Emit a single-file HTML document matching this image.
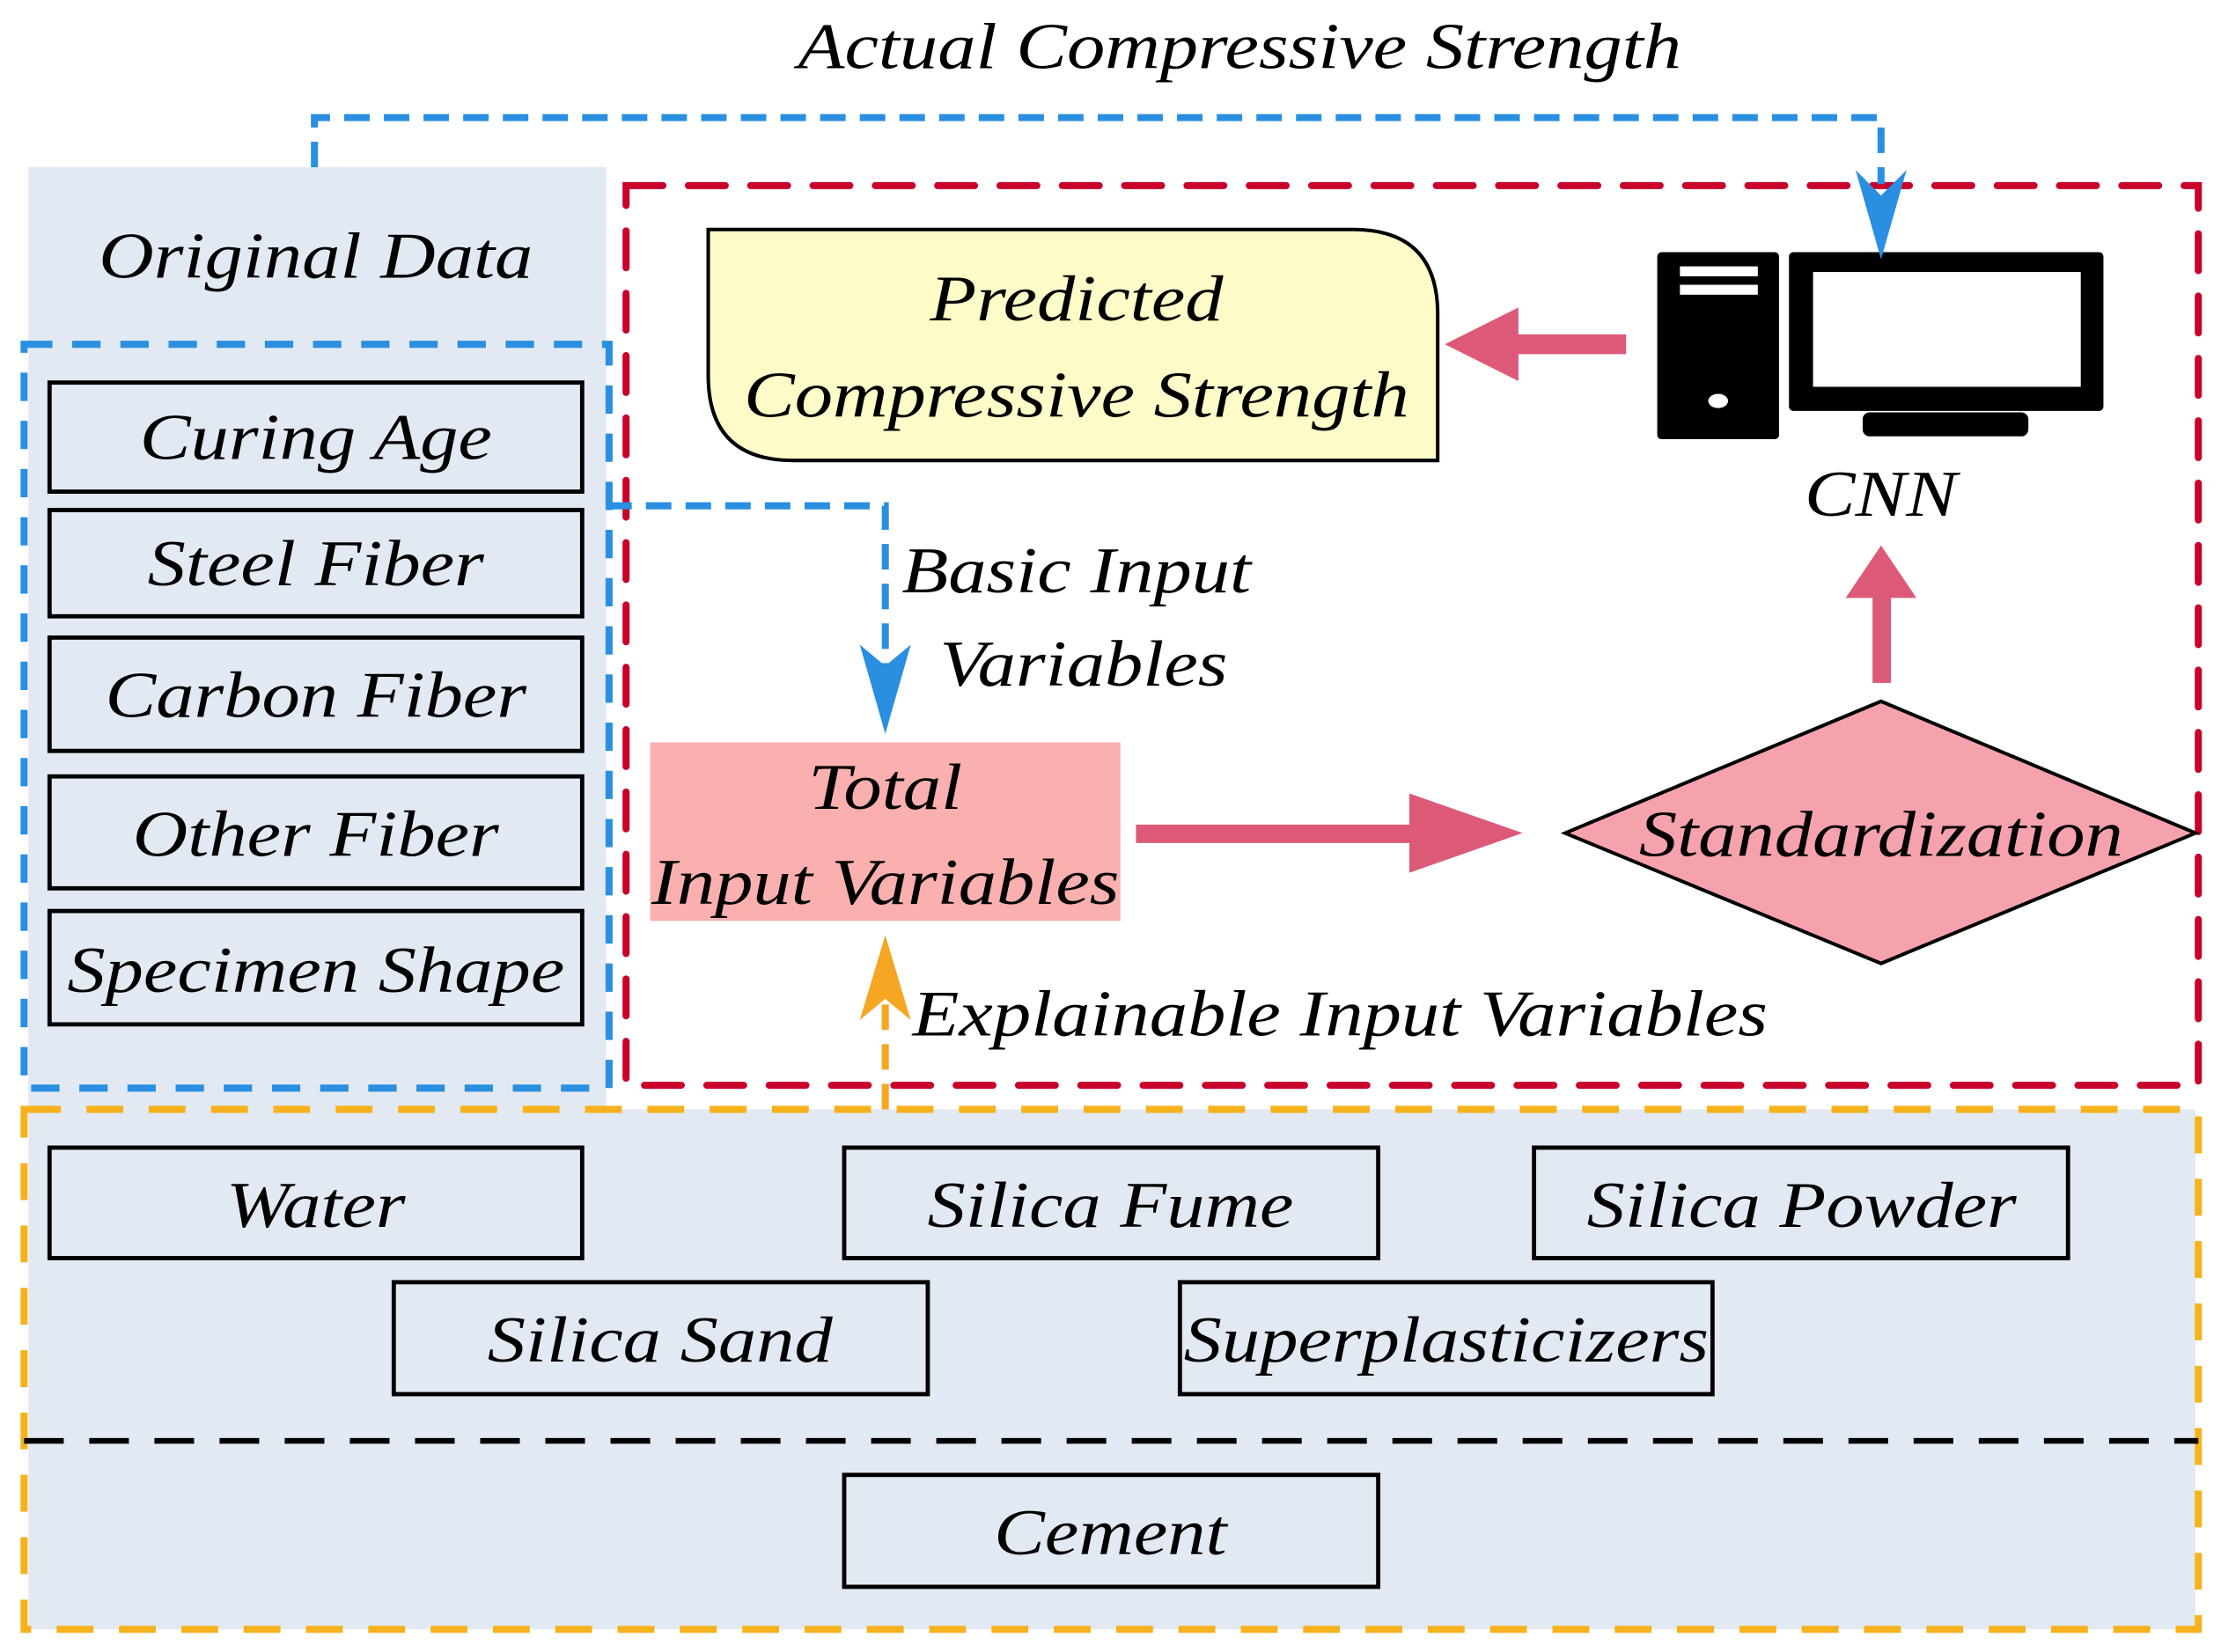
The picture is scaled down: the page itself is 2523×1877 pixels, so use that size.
<!DOCTYPE html>
<html><head><meta charset="utf-8"><style>
html,body{margin:0;padding:0;background:#fff}
svg{display:block}
text{font-family:"Liberation Serif",serif;font-style:italic;fill:#000;transform:scaleX(1.17);transform-box:fill-box;transform-origin:center}
</style></head><body>
<svg width="2523" height="1877" viewBox="0 0 1568 1166" preserveAspectRatio="none" xmlns="http://www.w3.org/2000/svg">
<rect width="1568" height="1166" fill="#fff"/>
<rect x="20" y="118" width="408" height="665" fill="#e3e9f2"/>
<rect x="20" y="783" width="1530" height="367" fill="#e3e9f2"/>
<rect x="442" y="131" width="1110" height="635" fill="none" stroke="#c8002a" stroke-width="5" stroke-dasharray="26 18" stroke-linecap="round"/>
<rect x="17" y="243" width="413" height="525" fill="none" stroke="#2a8fe0" stroke-width="5" stroke-dasharray="20 14"/>
<rect x="17" y="783" width="1535" height="367" fill="none" stroke="#f5b21c" stroke-width="5" stroke-dasharray="26 18"/>
<line x1="17" y1="1017" x2="1552" y2="1017" stroke="#000" stroke-width="4" stroke-dasharray="28 18"/>
<g fill="none" stroke="#000" stroke-width="3">
<rect x="35" y="270" width="376" height="77"/>
<rect x="35" y="360" width="376" height="75"/>
<rect x="35" y="450" width="376" height="80"/>
<rect x="35" y="548" width="376" height="79"/>
<rect x="35" y="643" width="376" height="80"/>
<rect x="35" y="810" width="376" height="78"/>
<rect x="596" y="810" width="377" height="78"/>
<rect x="1083" y="810" width="377" height="78"/>
<rect x="278" y="905" width="377" height="79"/>
<rect x="833" y="905" width="376" height="79"/>
<rect x="596" y="1041" width="377" height="79"/>
</g>
<path d="M500,162 H955 Q1015,162 1015,222 V325 H560 Q500,325 500,265 Z" fill="#fdfbc8" stroke="#000" stroke-width="2.5"/>
<rect x="459" y="524" width="332" height="126" fill="#f9b0ae"/>
<polygon points="1105,588 1328,495 1550,588 1328,680" fill="#f6a2ad" stroke="#000" stroke-width="2.5"/>
<g font-size="46" text-anchor="middle">
<text x="223" y="196">Original Data</text>
<text x="223" y="324">Curing Age</text>
<text x="223" y="413">Steel Fiber</text>
<text x="223" y="506">Carbon Fiber</text>
<text x="223" y="604">Other Fiber</text>
<text x="223" y="700">Specimen Shape</text>
<text x="223" y="866">Water</text>
<text x="784" y="866">Silica Fume</text>
<text x="1272" y="866">Silica Powder</text>
<text x="466" y="961">Silica Sand</text>
<text x="1021" y="961">Superplasticizers</text>
<text x="784" y="1097">Cement</text>
<text x="875" y="48">Actual Compressive Strength</text>
<text x="760" y="226">Predicted</text>
<text x="760" y="294">Compressive Strength</text>
<text x="625" y="571">Total</text>
<text x="625" y="638">Input Variables</text>
<text x="1328" y="604">Standardization</text>
<text x="1328" y="364">CNN</text>
<text x="760" y="418">Basic Input</text>
<text x="765" y="484">Variables</text>
<text x="946" y="731">Explainable Input Variables</text>
</g>
<g fill="#dc5a78">
<rect x="802" y="582" width="195" height="13"/>
<polygon points="995,560 1075,588 995,616"/>
<rect x="1322" y="420" width="13" height="62"/>
<polygon points="1303,422 1328,385 1353,422"/>
<rect x="1070" y="236" width="78" height="14"/>
<polygon points="1072,217 1020,243 1072,269"/>
</g>
<rect x="1170" y="178" width="86" height="132" rx="3" fill="#000"/>
<rect x="1186" y="188" width="55" height="7" fill="#fff"/>
<rect x="1186" y="201" width="55" height="7" fill="#fff"/>
<ellipse cx="1213" cy="283" rx="7" ry="5" fill="#fff"/>
<rect x="1263" y="178" width="222" height="112" rx="3" fill="#000"/>
<rect x="1280" y="192" width="189" height="81" fill="#fff"/>
<rect x="1315" y="291" width="117" height="17" rx="5" fill="#000"/>
<polyline points="222,118 222,83 1328,83 1328,130" fill="none" stroke="#2a8fe0" stroke-width="5" stroke-dasharray="18 10"/>
<polygon points="1310,120 1328,138 1346,120 1328,183" fill="#2a8fe0"/>
<polyline points="428,357 625,357 625,470" fill="none" stroke="#2a8fe0" stroke-width="5" stroke-dasharray="18 10"/>
<polygon points="607,455 625,470 643,455 625,518" fill="#2a8fe0"/>
<line x1="625" y1="783" x2="625" y2="705" stroke="#f5a623" stroke-width="5" stroke-dasharray="18 10"/>
<polygon points="607,720 625,705 643,720 625,660" fill="#f5a623"/>
</svg>
</body></html>
